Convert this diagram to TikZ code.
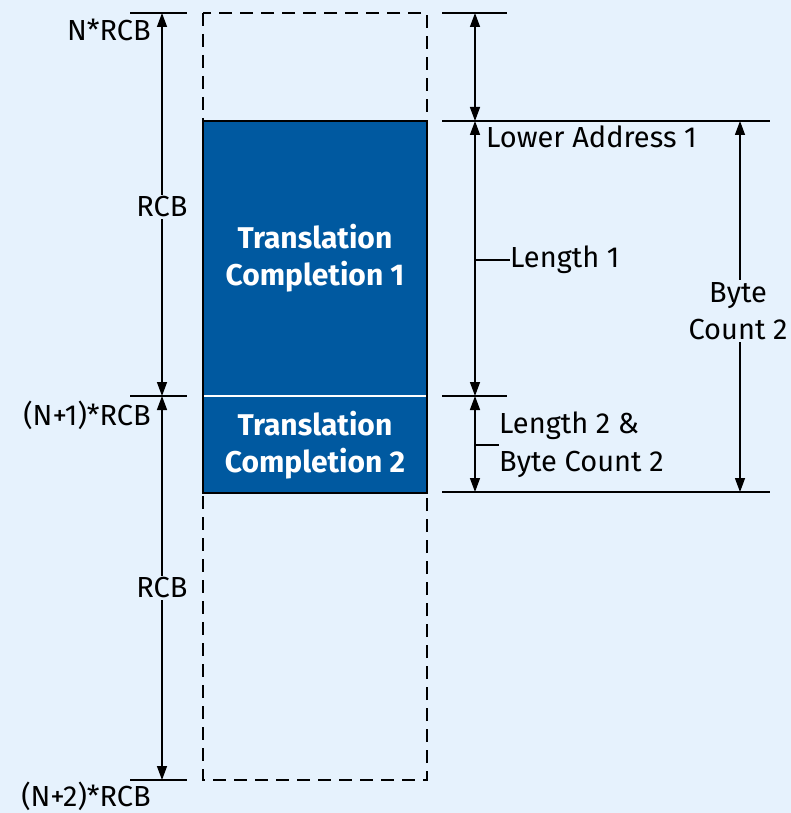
\documentclass[tikz,border=0pt]{standalone}
\usepackage{fontspec}
\setmainfont{Fira Sans}
\usepackage{tikz}
\usetikzlibrary{arrows.meta,positioning}
\definecolor{pagebg}{RGB}{230,242,253}
\definecolor{tcblue}{RGB}{0,89,160}
\tikzset{
  tick/.style={line width=1.6pt},
  dimline/.style={{Triangle[length=14pt,width=10pt]}-{Triangle[length=14pt,width=10pt]}, line width=1.4pt},
  dimlabel/.style={font=\fontsize{29}{38}\selectfont, inner sep=0pt, align=left},
  dimgap/.style={font=\fontsize{29}{37}\selectfont, fill=pagebg, inner sep=2pt, align=center},
  tcblock/.style={fill=tcblue, text=white, minimum width=224pt, inner sep=0pt, align=center, font=\bfseries\fontsize{30}{37}\selectfont},
  rcbframe/.style={line width=2.4pt, dash pattern=on 13pt off 8pt}
}
\begin{document}
\begin{tikzpicture}[x=1pt, y=-1pt]
\fill[pagebg] (0,0) rectangle (791,813);
\useasboundingbox (0,0) rectangle (791,813);
% memory window of two RCBs
\draw[rcbframe] (203,13) rectangle (427,780);
\node[tcblock, minimum height=275pt] (tc1) at (315,258.5) {Translation\\Completion 1};
\node[tcblock, minimum height=96pt] (tc2) at (315,445) {Translation\\Completion 2};
\draw[line width=2pt] (tc1.north west) rectangle (tc2.south east);
\draw[white, line width=2.5pt] (tc1.south west) ++(1,0) -- ([xshift=-1pt]tc1.south east);
% left side: RCB boundaries
\coordinate (rcb0) at (162,13);
\coordinate (rcb1) at (162,396);
\coordinate (rcb2) at (162,780);
\foreach \c in {rcb0,rcb1,rcb2}
  \draw[tick] ([xshift=-32pt]\c) -- ([xshift=25pt]\c);
\draw[dimline] (rcb0) -- (rcb1);
\draw[dimline] (rcb1) -- (rcb2);
\node[dimgap] (rcbtop) at (162,207) {RCB};
\node[dimgap] (rcbbot) at (162,588) {RCB};
\node[dimlabel, anchor=base east] (nrcb) at (151,41) {N*RCB};
\node[dimlabel, anchor=base east] (n1rcb) at (151,425) {(N+1)*RCB};
\node[dimlabel, anchor=base east] (n2rcb) at (151,806) {(N+2)*RCB};
% right side: completion lengths
\coordinate (top) at (475,13);
\coordinate (lowad) at (475,121);
\coordinate (split) at (475,396);
\coordinate (bottom) at (475,492);
\draw[tick] (442,13) -- (507,13);
\draw[tick] (442,121) -- (770,121);
\draw[tick] (442,396) -- (507,396);
\draw[tick] (442,492) -- (770,492);
\draw[dimline] (top) -- (lowad);
\draw[dimline] (lowad) -- (split);
\draw[dimline] (split) -- (bottom);
\node[dimlabel, anchor=base west] (lowlabel) at (486,148) {Lower Address 1};
\node[dimlabel, anchor=west] (len1) at (510,260) {Length 1};
\draw[tick] (475,260) -- (len1.west);
\node[dimlabel, anchor=west] (len2) at (499,445) {Length 2 \&\\Byte Count 2};
\draw[tick] (475,445) -- (len2.west);
% byte count of the second completion
\coordinate (bctop) at (740,121);
\coordinate (bcbot) at (740,492);
\draw[dimline] (bctop) -- (bcbot);
\node[dimgap] (bytecount) at (738,311) {Byte\\Count 2};
\end{tikzpicture}
\end{document}
